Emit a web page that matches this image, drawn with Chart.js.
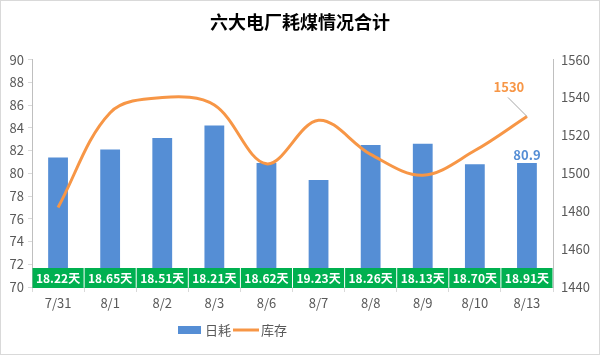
<!DOCTYPE html>
<html>
<head>
<meta charset="utf-8">
<script src="https://cdn.jsdelivr.net/npm/chart.js@4.4.0/dist/chart.umd.min.js"></script>
<style>
html,body{margin:0;padding:0;background:#fff;}
canvas{display:block;}
</style>
</head>
<body>
<canvas id="c" width="600" height="355"></canvas>
<script>
const categories = ['7/31','8/1','8/2','8/3','8/6','8/7','8/8','8/9','8/10','8/13'];
const dailyUse = [81.4, 82.1, 83.1, 84.2, 80.9, 79.4, 82.5, 82.6, 80.8, 80.9];
const stock = [1482, 1532, 1540, 1536, 1505, 1528, 1510, 1499, 1512, 1530];
const daysLabels = ['18.22天','18.65天','18.51天','18.21天','18.62天','19.23天','18.26天','18.13天','18.70天','18.91天'];
const leftTicks = [70, 90, 2];
const rightTicks = [1440, 1560, 20];

const FONT = "'Noto Sans CJK SC', 'Noto Sans', sans-serif";
const BLUE = '#558ED5';
const ORANGE = '#F79646';
const GREEN = '#00B050';
const GRAY = '#595959';

const extras = {
  id: 'extras',
  afterDatasetsDraw(chart) {
    const ctx = chart.ctx;
    const x = chart.scales.x, y = chart.scales.y;
    const n = categories.length;
    const cw = (x.right - x.left) / n;
    const bottom = y.getPixelForValue(leftTicks[0]) + 1;
    ctx.save();
    for (let i = 0; i < n; i++) {
      const cx = x.getPixelForValue(i);
      ctx.fillStyle = GREEN;
      ctx.fillRect(cx - cw / 2 + 0.5, bottom - 20, cw - 1, 20);
      ctx.fillStyle = '#fff';
      ctx.font = 'bold 12px ' + FONT;
      ctx.textAlign = 'center';
      ctx.textBaseline = 'middle';
      ctx.fillText(daysLabels[i], cx, bottom - 10);
    }
    const barMeta = chart.getDatasetMeta(0);
    const lb = barMeta.data[n - 1];
    ctx.fillStyle = BLUE;
    ctx.font = 'bold 13px ' + FONT;
    ctx.textAlign = 'center';
    ctx.textBaseline = 'middle';
    ctx.fillText(String(dailyUse[n - 1]), lb.x, lb.y - 8);
    const lineMeta = chart.getDatasetMeta(1);
    const lp = lineMeta.data[n - 1];
    ctx.strokeStyle = '#A6A6A6';
    ctx.lineWidth = 1;
    ctx.beginPath();
    ctx.moveTo(lp.x - 19, lp.y - 19);
    ctx.lineTo(lp.x, lp.y);
    ctx.stroke();
    ctx.fillStyle = ORANGE;
    ctx.fillText(String(stock[n - 1]), lp.x - 18, lp.y - 29);
    ctx.restore();
  },
  afterDraw(chart) {
    const ctx = chart.ctx;
    ctx.save();
    const ds = chart.data.datasets;
    const ly = 330;
    let lx = 178;
    ctx.font = '13px ' + FONT;
    ctx.textBaseline = 'middle';
    ctx.textAlign = 'left';
    ctx.fillStyle = ds[0].backgroundColor;
    ctx.fillRect(lx, ly - 4, 23, 8);
    lx += 27;
    ctx.fillStyle = GRAY;
    ctx.fillText(ds[0].label, lx, ly);
    lx += ctx.measureText(ds[0].label).width + 2;
    ctx.strokeStyle = ds[1].borderColor;
    ctx.lineWidth = 3;
    ctx.beginPath();
    ctx.moveTo(lx, ly);
    ctx.lineTo(lx + 26, ly);
    ctx.stroke();
    lx += 28;
    ctx.fillText(ds[1].label, lx, ly);
    ctx.strokeStyle = '#D9D9D9';
    ctx.lineWidth = 1;
    ctx.strokeRect(0.5, 0.5, 599, 354);
    ctx.restore();
  }
};

new Chart(document.getElementById('c'), {
  data: {
    labels: categories,
    datasets: [
      {
        type: 'bar',
        label: '日耗',
        data: dailyUse,
        backgroundColor: BLUE,
        yAxisID: 'y',
        barPercentage: 0.38,
        categoryPercentage: 1,
        order: 2
      },
      {
        type: 'line',
        label: '库存',
        data: stock,
        borderColor: ORANGE,
        borderWidth: 3,
        pointRadius: 0,
        tension: 0.35,
        yAxisID: 'y1',
        order: 1
      }
    ]
  },
  options: {
    responsive: false,
    animation: false,
    layout: { padding: { left: 0, right: 0, top: 0, bottom: 0 } },
    plugins: {
      legend: { display: false },
      tooltip: { enabled: false },
      title: {
        display: true,
        text: '六大电厂耗煤情况合计',
        color: '#000',
        font: { family: FONT, size: 18, weight: 'bold', lineHeight: 1.2 },
        padding: { top: 11, bottom: 27 }
      }
    },
    scales: {
      x: {
        offset: true,
        grid: { display: true, offset: true, drawOnChartArea: false, tickLength: 5, color: '#D9D9D9' },
        border: { display: true, color: '#D9D9D9' },
        ticks: { color: GRAY, font: { family: FONT, size: 13 }, padding: 3, maxRotation: 0 },
        afterFit(s) { s.height = 68; }
      },
      y: {
        position: 'left',
        min: leftTicks[0], max: leftTicks[1],
        ticks: { stepSize: leftTicks[2], color: GRAY, font: { family: FONT, size: 13 }, padding: 4, callback: v => String(v) },
        grid: { display: true, drawOnChartArea: false, tickLength: 4, color: '#D9D9D9' },
        border: { display: true, color: '#BFBFBF' },
        afterFit(s) { s.width = 32; }
      },
      y1: {
        position: 'right',
        min: rightTicks[0], max: rightTicks[1],
        ticks: { stepSize: rightTicks[2], color: GRAY, font: { family: FONT, size: 13 }, padding: 8, callback: v => String(v) },
        grid: { display: false, drawOnChartArea: false, drawTicks: false },
        border: { display: true, color: '#BFBFBF' },
        afterFit(s) { s.width = 47; }
      }
    }
  },
  plugins: [extras]
});
</script>
</body>
</html>
